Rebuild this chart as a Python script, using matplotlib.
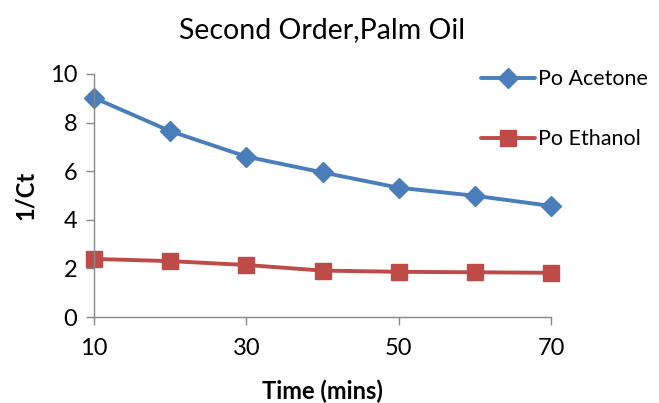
import matplotlib
matplotlib.use("Agg")
import matplotlib.pyplot as plt

time_mins = [10, 20, 30, 40, 50, 60, 70]
po_acetone = [9.02, 7.65, 6.6, 5.95, 5.32, 4.99, 4.57]
po_ethanol = [2.39, 2.30, 2.14, 1.91, 1.86, 1.84, 1.82]
x_ticks = [10, 30, 50, 70]
y_ticks = [0, 2, 4, 6, 8, 10]

plt.rcParams['font.family'] = ['Lato', 'DejaVu Sans']

fig = plt.figure(figsize=(6.59, 4.03), dpi=100)
ax = fig.add_axes([94/659, 86/403, 457/659, 243/403])

ax.plot(time_mins, po_acetone, color='#4A7EBB', lw=2.8, marker='D', markersize=10,
        label='Po Acetone', solid_capstyle='round')
ax.plot(time_mins, po_ethanol, color='#BE4B48', lw=2.8, marker='s', markersize=12,
        label='Po Ethanol', solid_capstyle='round')

ax.set_xlim(10, 70)
ax.set_ylim(0, 10)
ax.set_xticks(x_ticks)
ax.set_yticks(y_ticks)
ax.tick_params(labelsize=17, colors='black', length=6, width=1, color='#888888')
ax.tick_params(axis='x', pad=9)
ax.tick_params(axis='y', pad=6)
for s in ['top', 'right']:
    ax.spines[s].set_visible(False)
for s in ['left', 'bottom']:
    ax.spines[s].set_color('#888888')
    ax.spines[s].set_linewidth(1)
for l in ax.lines:
    l.set_clip_on(False)

ax.set_xlabel('Time (mins)', fontsize=17, fontweight='bold', labelpad=15)
ax.set_ylabel('1/Ct', fontsize=17, fontweight='bold', labelpad=9)
fig.text(322/659, 1 - 30/403, 'Second Order,Palm Oil', fontsize=20.5, ha='center', va='center')

leg = fig.legend(loc='upper left', bbox_to_anchor=(462/659, 1 - 50/403), frameon=False,
                 fontsize=15.5, labelspacing=1.85, handlelength=2.5, handletextpad=0.15)

fig.savefig('out.png', dpi=100)
